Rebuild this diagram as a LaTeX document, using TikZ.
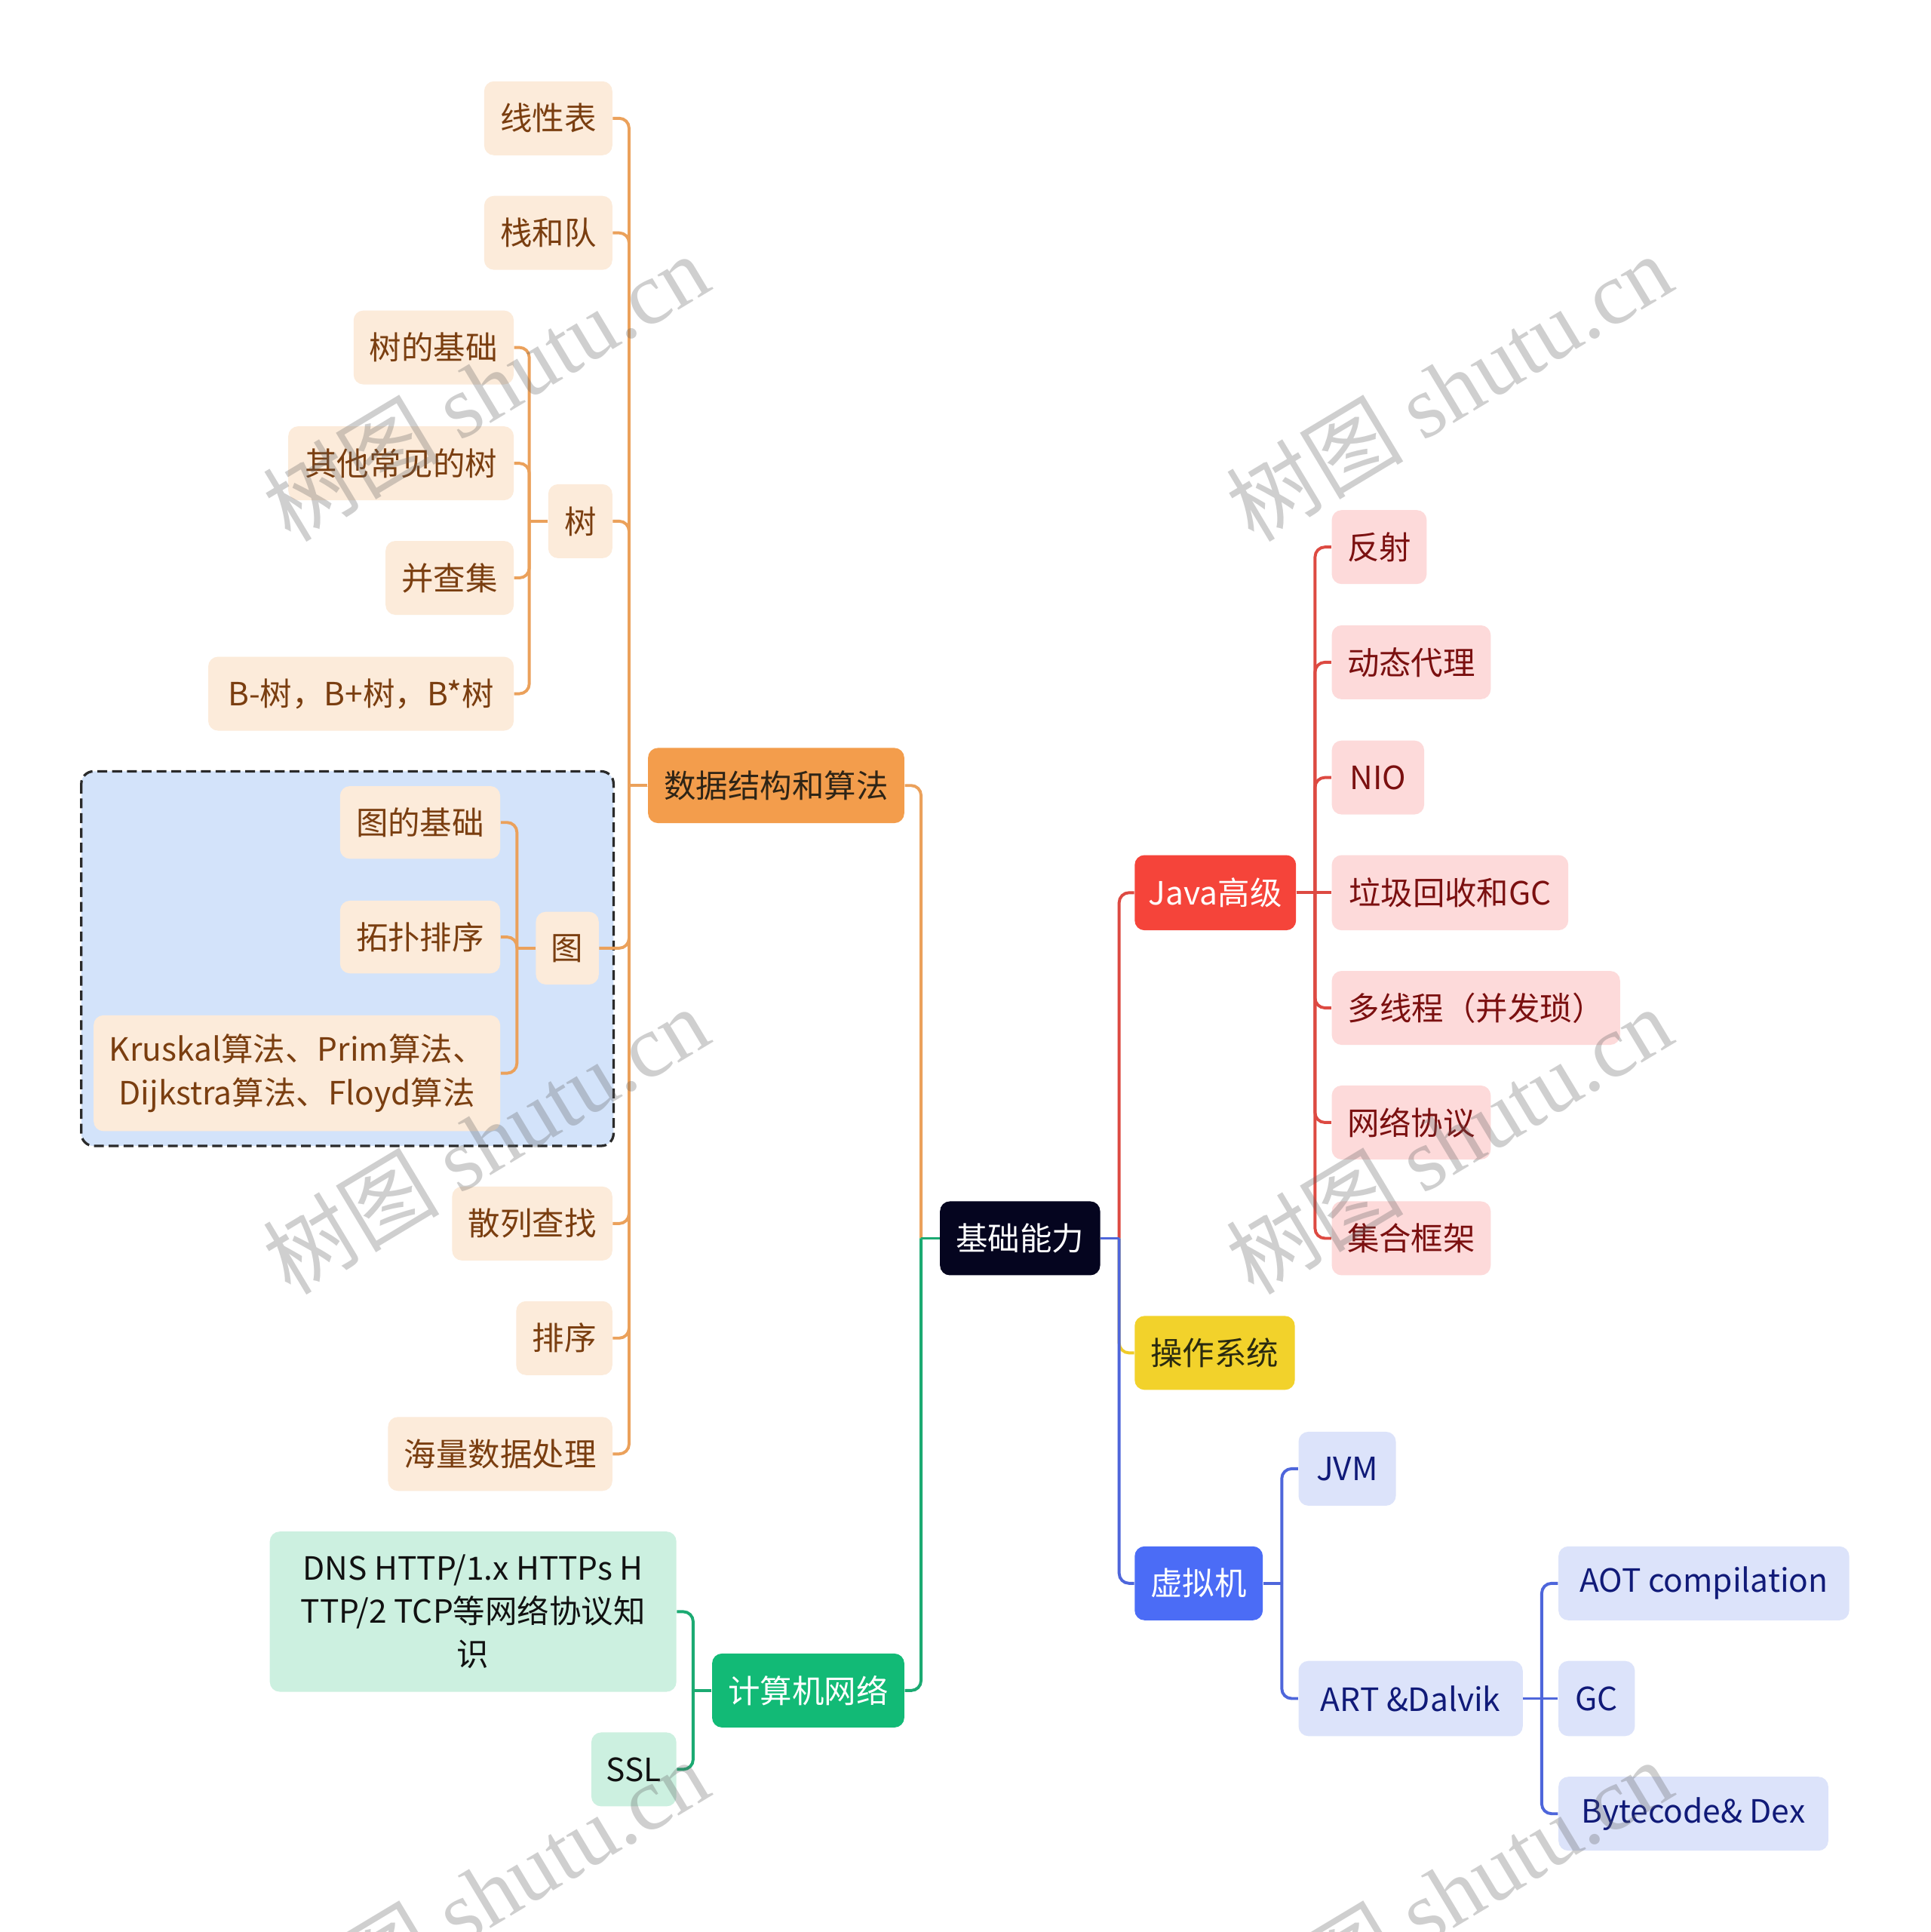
\documentclass[tikz,border=0pt]{standalone}
\usepackage{fontspec}
\setmainfont{Noto Sans CJK SC}
\newfontfamily\wmlatin{Liberation Serif}
\definecolor{ofill}{HTML}{FCEBDA}
\definecolor{otext}{HTML}{7A3E10}
\definecolor{oline}{HTML}{EBA15B}
\definecolor{dsfill}{HTML}{F39D4C}
\definecolor{dstext}{HTML}{2E2416}
\definecolor{rfill}{HTML}{FDDADA}
\definecolor{rtext}{HTML}{7B1010}
\definecolor{rline}{HTML}{DD4A42}
\definecolor{javafill}{HTML}{F5443A}
\definecolor{osfill}{HTML}{F2D22B}
\definecolor{ostext}{HTML}{2A2A10}
\definecolor{yline}{HTML}{EFCB2A}
\definecolor{bfill}{HTML}{DCE3FA}
\definecolor{btext}{HTML}{101A78}
\definecolor{bline}{HTML}{4E66DB}
\definecolor{vmfill}{HTML}{4B6CF6}
\definecolor{gfill}{HTML}{CCF0E0}
\definecolor{gtext}{HTML}{111111}
\definecolor{gline}{HTML}{1BAA72}
\definecolor{netfill}{HTML}{12BA76}
\definecolor{rootfill}{HTML}{05051F}
\definecolor{regionfill}{HTML}{D3E3FA}
\definecolor{regionline}{HTML}{2A2A2A}
\newcommand\lkR[3]{\draw[#1] (#2.east) -- ++(7.5pt,0pt) coordinate (tmpj); \draw[#1,rounded corners=4pt] (tmpj) |- (#3.west);}
\newcommand\lkL[3]{\draw[#1] (#2.west) -- ++(-7.5pt,0pt) coordinate (tmpj); \draw[#1,rounded corners=4pt] (tmpj) |- (#3.east);}
\tikzset{
  box/.style={rounded corners=4pt, inner sep=0pt, minimum height=30pt, align=center,
              font=\fontsize{13pt}{17.5pt}\selectfont},
  obox/.style={box, fill=ofill, text=otext},
  rbox/.style={box, fill=rfill, text=rtext},
  bbox/.style={box, fill=bfill, text=btext},
  gbox/.style={box, fill=gfill, text=gtext},
  conn/.style={line width=1.2pt},
  ol/.style={conn, draw=oline},
  rl/.style={conn, draw=rline},
  bl/.style={conn, draw=bline},
  gl/.style={conn, draw=gline},
  yl/.style={conn, draw=yline},
  wm/.style={rotate=31, text=black!62, text opacity=0.3, inner sep=0pt,
             font=\fontsize{36pt}{40pt}\selectfont}
}
\begin{document}
\begin{tikzpicture}[x=0.5pt,y=-0.5pt]
\useasboundingbox (0,0) rectangle (1567,1568);
\fill[white] (0,0) rectangle (1567,1568);
% dashed region
\draw[fill=regionfill, draw=regionline, line width=1pt, dash pattern=on 4pt off 2pt, rounded corners=5pt] (66,626) rectangle (498,930);

% nodes
\node[box, fill=rootfill, text=white, minimum width=65pt] (root) at (828,1005) {基础能力};
\node[box, fill=dsfill, text=dstext, minimum width=104pt, minimum height=30.5pt] (ds) at (630,637.5) {数据结构和算法};
\node[obox, minimum width=52pt] (l1) at (445,96) {线性表};
\node[obox, minimum width=52pt] (l2) at (445,189) {栈和队};
\node[obox, minimum width=26pt] (tree) at (471,423) {树};
\node[obox, minimum width=65pt] (t1) at (352,282) {树的基础};
\node[obox, minimum width=91.5pt] (t2) at (325.5,376) {其他常见的树};
\node[obox, minimum width=52pt] (t3) at (365,469) {并查集};
\node[obox, minimum width=124pt] (t4) at (293,563) {B-树，B+树，B*树};
\node[obox, minimum width=25.5pt, minimum height=29.5pt] (graph) at (460.5,769.5) {图};
\node[obox, minimum width=65pt, minimum height=29.5pt] (g1) at (341,667.5) {图的基础};
\node[obox, minimum width=65pt, minimum height=29.5pt] (g2) at (341,760.5) {拓扑排序};
\node[obox, minimum width=165pt, minimum height=47pt] (g3) at (241,871) {Kruskal算法、Prim算法、\\Dijkstra算法、Floyd算法};
\node[obox, minimum width=65pt] (l4) at (432,993) {散列查找};
\node[obox, minimum width=39pt] (l5) at (458,1086) {排序};
\node[obox, minimum width=91pt] (l6) at (406,1180) {海量数据处理};

\node[box, fill=javafill, text=white, minimum width=65.5pt, minimum height=30.5pt] (java) at (986.5,724.5) {Java高级};
\node[rbox, minimum width=38.5pt] (j1) at (1119.5,444) {反射};
\node[rbox, minimum width=64.5pt] (j2) at (1145.5,537.5) {动态代理};
\node[rbox, minimum width=37.5pt] (j3) at (1118.5,631) {NIO};
\node[rbox, minimum width=96pt, minimum height=30.5pt] (j4) at (1177,724.5) {垃圾回收和GC};
\node[rbox, minimum width=117pt] (j5) at (1198,818) {多线程（并发琐）};
\node[rbox, minimum width=64.5pt] (j6) at (1145.5,911) {网络协议};
\node[rbox, minimum width=64.5pt] (j7) at (1145.5,1005) {集合框架};

\node[box, fill=osfill, text=ostext, minimum width=65pt] (os) at (986,1098) {操作系统};

\node[box, fill=vmfill, text=white, minimum width=52pt] (vm) at (973,1285) {虚拟机};
\node[bbox, minimum width=39.5pt] (v1) at (1093.5,1192) {JVM};
\node[bbox, minimum width=91pt, minimum height=30.5pt] (v2) at (1145,1378.5) {ART \&Dalvik};
\node[bbox, minimum width=118pt] (a1) at (1383,1285) {AOT compilation};
\node[bbox, minimum width=31pt, minimum height=30.5pt] (a2) at (1296,1378.5) {GC};
\node[bbox, minimum width=109.5pt] (a3) at (1374.5,1472) {Bytecode\& Dex};

\node[box, fill=netfill, text=white, minimum width=78pt] (net) at (656,1372) {计算机网络};
\node[gbox, minimum width=165pt, minimum height=65pt] (n1) at (384,1308) {DNS HTTP/1.x HTTPs H\\TTP/2 TCP等网络协议知\\识};
\node[gbox, minimum width=34.5pt] (n2) at (514.5,1436) {SSL};

% connectors
\lkL{ol}{root}{ds}
\lkL{gl}{root}{net}
\lkR{rl}{root}{java}
\lkR{yl}{root}{os}
\lkR{bl}{root}{vm}

\lkL{ol}{ds}{l1}
\lkL{ol}{ds}{l2}
\lkL{ol}{ds}{tree}
\lkL{ol}{ds}{graph}
\lkL{ol}{ds}{l4}
\lkL{ol}{ds}{l5}
\lkL{ol}{ds}{l6}

\lkL{ol}{tree}{t1}
\lkL{ol}{tree}{t2}
\lkL{ol}{tree}{t3}
\lkL{ol}{tree}{t4}

\lkL{ol}{graph}{g1}
\lkL{ol}{graph}{g2}
\lkL{ol}{graph}{g3}

\lkR{rl}{java}{j1}
\lkR{rl}{java}{j2}
\lkR{rl}{java}{j3}
\draw[rl] (java.east) -- (j4.west);
\lkR{rl}{java}{j5}
\lkR{rl}{java}{j6}
\lkR{rl}{java}{j7}

\lkR{bl}{vm}{v1}
\lkR{bl}{vm}{v2}
\lkR{bl}{v2}{a1}
\draw[bl] (v2.east) -- (a2.west);
\lkR{bl}{v2}{a3}

\lkL{gl}{net}{n1}
\lkL{gl}{net}{n2}

% watermark
\node[wm] (wm1) at (394,314) {树图 {\wmlatin shutu.cn}};
\node[wm] (wm2) at (1176,314) {树图 {\wmlatin shutu.cn}};
\node[wm] (wm3) at (394,925) {树图 {\wmlatin shutu.cn}};
\node[wm] (wm4) at (1176,925) {树图 {\wmlatin shutu.cn}};
\node[wm] (wm5) at (394,1536) {树图 {\wmlatin shutu.cn}};
\node[wm] (wm6) at (1176,1536) {树图 {\wmlatin shutu.cn}};
\end{tikzpicture}
\end{document}
